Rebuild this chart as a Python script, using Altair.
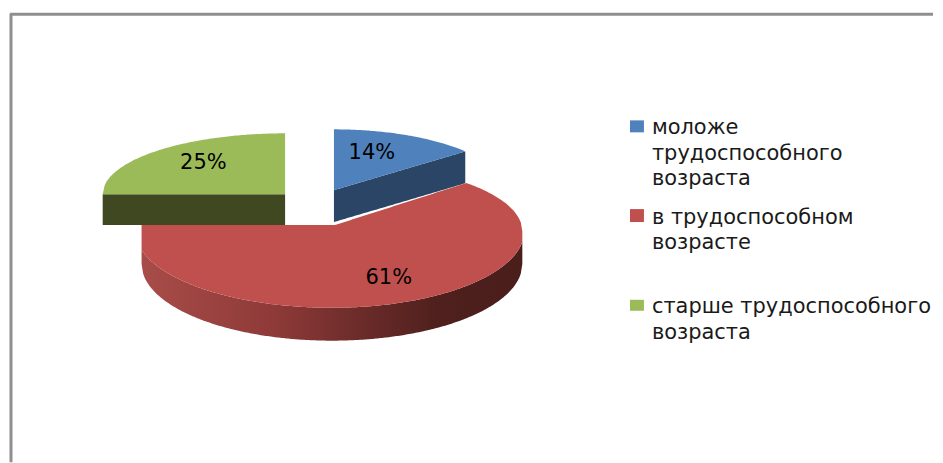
import altair as alt
import numpy as np
import pandas as pd

# data
labels = ["моложе трудоспособного возраста", "в трудоспособном возрасте", "старше трудоспособного возраста"]
shares = [14, 61, 25]
pct_text = ["14%", "61%", "25%"]
legend_lines = [
    ["моложе", "трудоспособного", "возраста"],
    ["в трудоспособном", "возрасте"],
    ["старше трудоспособного", "возраста"],
]
colors = ["#4f81bd", "#c0504d", "#9bbb59"]
side_colors = ["#2a4565", None, "#3f4820"]

# layout constants (page pixels)
W, H = 935, 463
DEPTH = 32
xs = alt.Scale(domain=[8, W], range=[0, W - 8], nice=False, zero=False)
ys = alt.Scale(domain=[8, H], range=[0, H - 8], nice=False, zero=False)

cum = np.cumsum([0] + shares) / 100 * 2 * np.pi


def arc_y(x, cx, cy, rx, ry, sign):
    t = np.clip((x - cx) / rx, -1, 1)
    return cy + sign * ry * np.sqrt(1 - t ** 2)


def area_layer(df, fill):
    return alt.Chart(df).mark_area(color=fill, clip=True).encode(
        x=alt.X("x:Q", scale=xs, axis=None),
        y=alt.Y("y:Q", scale=ys, axis=None),
        y2="y2:Q",
    )


# blue slice
bx, by, brx, bry = 334, 190, 171, 61
btx = bx + brx * np.sin(cum[1])
bty = by - bry * np.cos(cum[1])
xb = np.linspace(bx, btx, 70)
b_top = arc_y(xb, bx, by, brx, bry, -1)
b_low = by + (bty - by) * (xb - bx) / (btx - bx)
blue_top = pd.DataFrame({"x": xb, "y": b_top, "y2": b_low})
blue_side = pd.DataFrame({"x": xb, "y": b_low, "y2": b_low + DEPTH})

# green slice
gx, gy, grx, gry = 285, 194, 183, 61
xg = np.linspace(gx - grx, gx, 90)
green_top = pd.DataFrame({"x": xg, "y": arc_y(xg, gx, gy, grx, gry, -1), "y2": gy})
green_side = pd.DataFrame({"x": xg, "y": gy, "y2": gy + 31})

# red slice: perspective shifts its visible end angles a little
rx0, ry0, rrx, r_back, r_front = 332, 231, 191, 68, 77
ax, ay = 335, 225
t0 = cum[1] - np.radians(5.5)
t1 = cum[2] + np.radians(5)
sx = rx0 + rrx * np.sin(t0)
sy = ry0 - r_back * np.cos(t0)
ex = rx0 + rrx * np.sin(t1)
ey = ry0 - r_back * np.cos(t1)
xr = np.linspace(rx0 - rrx, rx0 + rrx, 240)
r_low = np.where(xr < rx0,
                 arc_y(xr, rx0, ry0, 197, r_front, 1),
                 arc_y(xr, rx0, ry0, 193, r_front, 1))
r_up = np.where(xr < ax, np.interp(xr, [ex, ax], [ey, ay]),
                np.where(xr < sx, np.interp(xr, [ax, sx], [ay, sy]),
                         arc_y(xr, rx0, ry0, rrx, r_back, -1)))
red_top = pd.DataFrame({"x": xr, "y": r_up, "y2": r_low})
red_side = pd.DataFrame({"x": xr, "y": r_low, "y2": arc_y(xr, rx0, ry0, rrx, r_front, 1) + 33})
red_grad = alt.Gradient(
    gradient="linear", x1=0, x2=1, y1=0, y2=0,
    stops=[
        alt.GradientStop(offset=0, color="#a84c49"),
        alt.GradientStop(offset=0.35, color="#8e3a38"),
        alt.GradientStop(offset=0.55, color="#6f2d2b"),
        alt.GradientStop(offset=0.78, color="#4f201d"),
        alt.GradientStop(offset=1, color="#4a1e1b"),
    ],
)

# frame
frame_v = alt.Chart(pd.DataFrame({"x": [10], "y": [13], "y2": [H]})).mark_rule(color="#8f8f8f", strokeWidth=3).encode(
    x=alt.X("x:Q", scale=xs, axis=None), y=alt.Y("y:Q", scale=ys, axis=None), y2="y2:Q")
frame_h = alt.Chart(pd.DataFrame({"x": [9], "x2": [W], "y": [13.5]})).mark_rule(color="#8f8f8f", strokeWidth=3).encode(
    x=alt.X("x:Q", scale=xs, axis=None), x2="x2:Q", y=alt.Y("y:Q", scale=ys, axis=None))

# percentage labels
pct_df = pd.DataFrame({"t": pct_text, "x": [372, 389, 203], "y": [153, 278, 163]})
pct = alt.Chart(pct_df).mark_text(font="DejaVu Sans", fontSize=21, color="#000000", align="center", baseline="middle").encode(
    x=alt.X("x:Q", scale=xs, axis=None), y=alt.Y("y:Q", scale=ys, axis=None), text="t:N")

# legend
sw_y = [120, 209, 300]
sw_df = pd.DataFrame({"x": 631, "x2": 645, "y": sw_y, "y2": [132, 222, 311], "c": labels})
swatch = alt.Chart(sw_df).mark_rect().encode(
    x=alt.X("x:Q", scale=xs, axis=None), x2="x2:Q",
    y=alt.Y("y:Q", scale=ys, axis=None), y2="y2:Q",
    color=alt.Color("c:N", scale=alt.Scale(domain=labels, range=colors), legend=None),
)
line_y = [[128, 154, 179], [218, 243], [307, 333]]
rows = [{"t": t, "y": y} for ls, yy in zip(legend_lines, line_y) for t, y in zip(ls, yy)]
leg_df = pd.DataFrame(rows)
leg_df["x"] = 653
legend_text = alt.Chart(leg_df).mark_text(font="DejaVu Sans", fontSize=21, color="#1a1a1a", align="left", baseline="middle").encode(
    x=alt.X("x:Q", scale=xs, axis=None), y=alt.Y("y:Q", scale=ys, axis=None), text="t:N")

chart = alt.layer(
    frame_v, frame_h,
    area_layer(blue_side, side_colors[0]),
    area_layer(blue_top, colors[0]),
    area_layer(red_side, red_grad),
    area_layer(red_top, colors[1]),
    area_layer(green_side, side_colors[2]),
    area_layer(green_top, colors[2]),
    pct, swatch, legend_text,
).properties(width=W - 8, height=H - 8, padding=0, background="white").configure_view(stroke=None)

chart.save("out.html", embed_options={"renderer": "svg", "actions": False})
